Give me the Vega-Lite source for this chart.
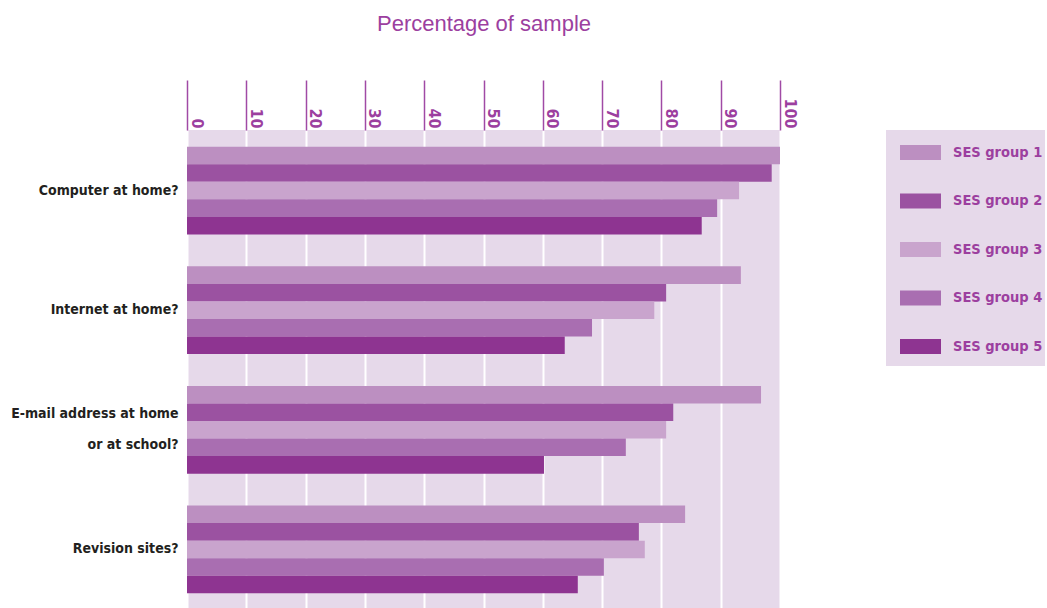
{
  "$schema": "https://vega.github.io/schema/vega-lite/v6.json",
  "width": 593,
  "height": 480,
  "autosize": {"type": "none"},
  "padding": {"left": 187, "top": 130, "right": 267, "bottom": 0},
  "background": "white",
  "view": {"fill": "#e6d9ea", "stroke": null},
  "data": {
    "values": [
      {"question": "Computer at home?", "group": "SES group 1", "value": 100},
      {"question": "Computer at home?", "group": "SES group 2", "value": 98.6},
      {"question": "Computer at home?", "group": "SES group 3", "value": 93.1},
      {"question": "Computer at home?", "group": "SES group 4", "value": 89.4},
      {"question": "Computer at home?", "group": "SES group 5", "value": 86.8},
      {"question": "Internet at home?", "group": "SES group 1", "value": 93.4},
      {"question": "Internet at home?", "group": "SES group 2", "value": 80.8},
      {"question": "Internet at home?", "group": "SES group 3", "value": 78.8},
      {"question": "Internet at home?", "group": "SES group 4", "value": 68.3},
      {"question": "Internet at home?", "group": "SES group 5", "value": 63.7},
      {"question": "E-mail address at home|or at school?", "group": "SES group 1", "value": 96.8},
      {"question": "E-mail address at home|or at school?", "group": "SES group 2", "value": 82},
      {"question": "E-mail address at home|or at school?", "group": "SES group 3", "value": 80.8},
      {"question": "E-mail address at home|or at school?", "group": "SES group 4", "value": 74},
      {"question": "E-mail address at home|or at school?", "group": "SES group 5", "value": 60.2},
      {"question": "Revision sites?", "group": "SES group 1", "value": 84},
      {"question": "Revision sites?", "group": "SES group 2", "value": 76.2},
      {"question": "Revision sites?", "group": "SES group 3", "value": 77.2},
      {"question": "Revision sites?", "group": "SES group 4", "value": 70.3},
      {"question": "Revision sites?", "group": "SES group 5", "value": 65.9}
    ]
  },
  "mark": {"type": "bar"},
  "encoding": {
    "y": {
      "field": "question",
      "type": "nominal",
      "sort": null,
      "scale": {"paddingInner": 0.267, "paddingOuter": 0.14},
      "axis": {
        "title": null,
        "domain": false,
        "ticks": false,
        "labelFont": "DejaVu Sans Condensed, Roboto, sans-serif",
        "labelFontWeight": "bold",
        "labelFontSize": 14,
        "labelColor": "#231f20",
        "labelPadding": 9,
        "labelLimit": 300,
        "labelExpr": "split(datum.label, '|')",
        "labelLineHeight": 31,
        "labelOffset": {"condition": {"test": "indexof(datum.value, '|') >= 0", "value": -15.5}, "value": 0}
      }
    },
    "yOffset": {
      "field": "group",
      "type": "nominal",
      "sort": null,
      "scale": {"paddingInner": 0, "paddingOuter": 0}
    },
    "x": {
      "field": "value",
      "type": "quantitative",
      "scale": {"domain": [0, 100], "nice": false},
      "axis": {
        "orient": "top",
        "values": [0, 10, 20, 30, 40, 50, 60, 70, 80, 90, 100],
        "domain": false,
        "tickSize": 50,
        "tickColor": "#a04aa5",
        "tickWidth": 1.5,
        "grid": true,
        "gridColor": "#ffffff",
        "gridWidth": 2,
        "labelAngle": 90,
        "labelAlign": "right",
        "labelBaseline": "alphabetic",
        "labelPadding": -48,
        "labelOffset": 4,
        "labelFlush": false,
        "labelOverlap": false,
        "labelFont": "DejaVu Sans Condensed, Roboto, sans-serif",
        "labelFontWeight": "bold",
        "labelFontSize": 16,
        "labelColor": "#9c3f9f",
        "title": "Percentage of sample",
        "titleFont": "Liberation Sans",
        "titleFontWeight": "normal",
        "titleFontSize": 22,
        "titleColor": "#9c3f9f",
        "titleY": -100,
        "titleBaseline": "alphabetic"
      }
    },
    "color": {
      "field": "group",
      "type": "nominal",
      "scale": {
        "domain": ["SES group 1", "SES group 2", "SES group 3", "SES group 4", "SES group 5"],
        "range": ["#bc8fc1", "#9b52a1", "#c9a4cd", "#a96eb1", "#8e3491"]
      },
      "legend": {
        "orient": "none",
        "legendX": 699,
        "legendY": 0,
        "title": " ",
        "titleOrient": "bottom",
        "titleFontSize": 8,
        "titlePadding": 2,
        "fillColor": "#e6d9ea",
        "padding": 2,
        "symbolOffset": 12,
        "symbolType": "M-1,-0.37H1V0.37H-1Z",
        "symbolSize": 1681,
        "symbolStrokeWidth": 0,
        "symbolOpacity": 1,
        "labelFont": "DejaVu Sans Condensed, Roboto, sans-serif",
        "labelFontWeight": "bold",
        "labelFontSize": 14.5,
        "labelColor": "#9c3f9f",
        "labelOffset": 12,
        "rowPadding": 19.5
      }
    }
  }
}
